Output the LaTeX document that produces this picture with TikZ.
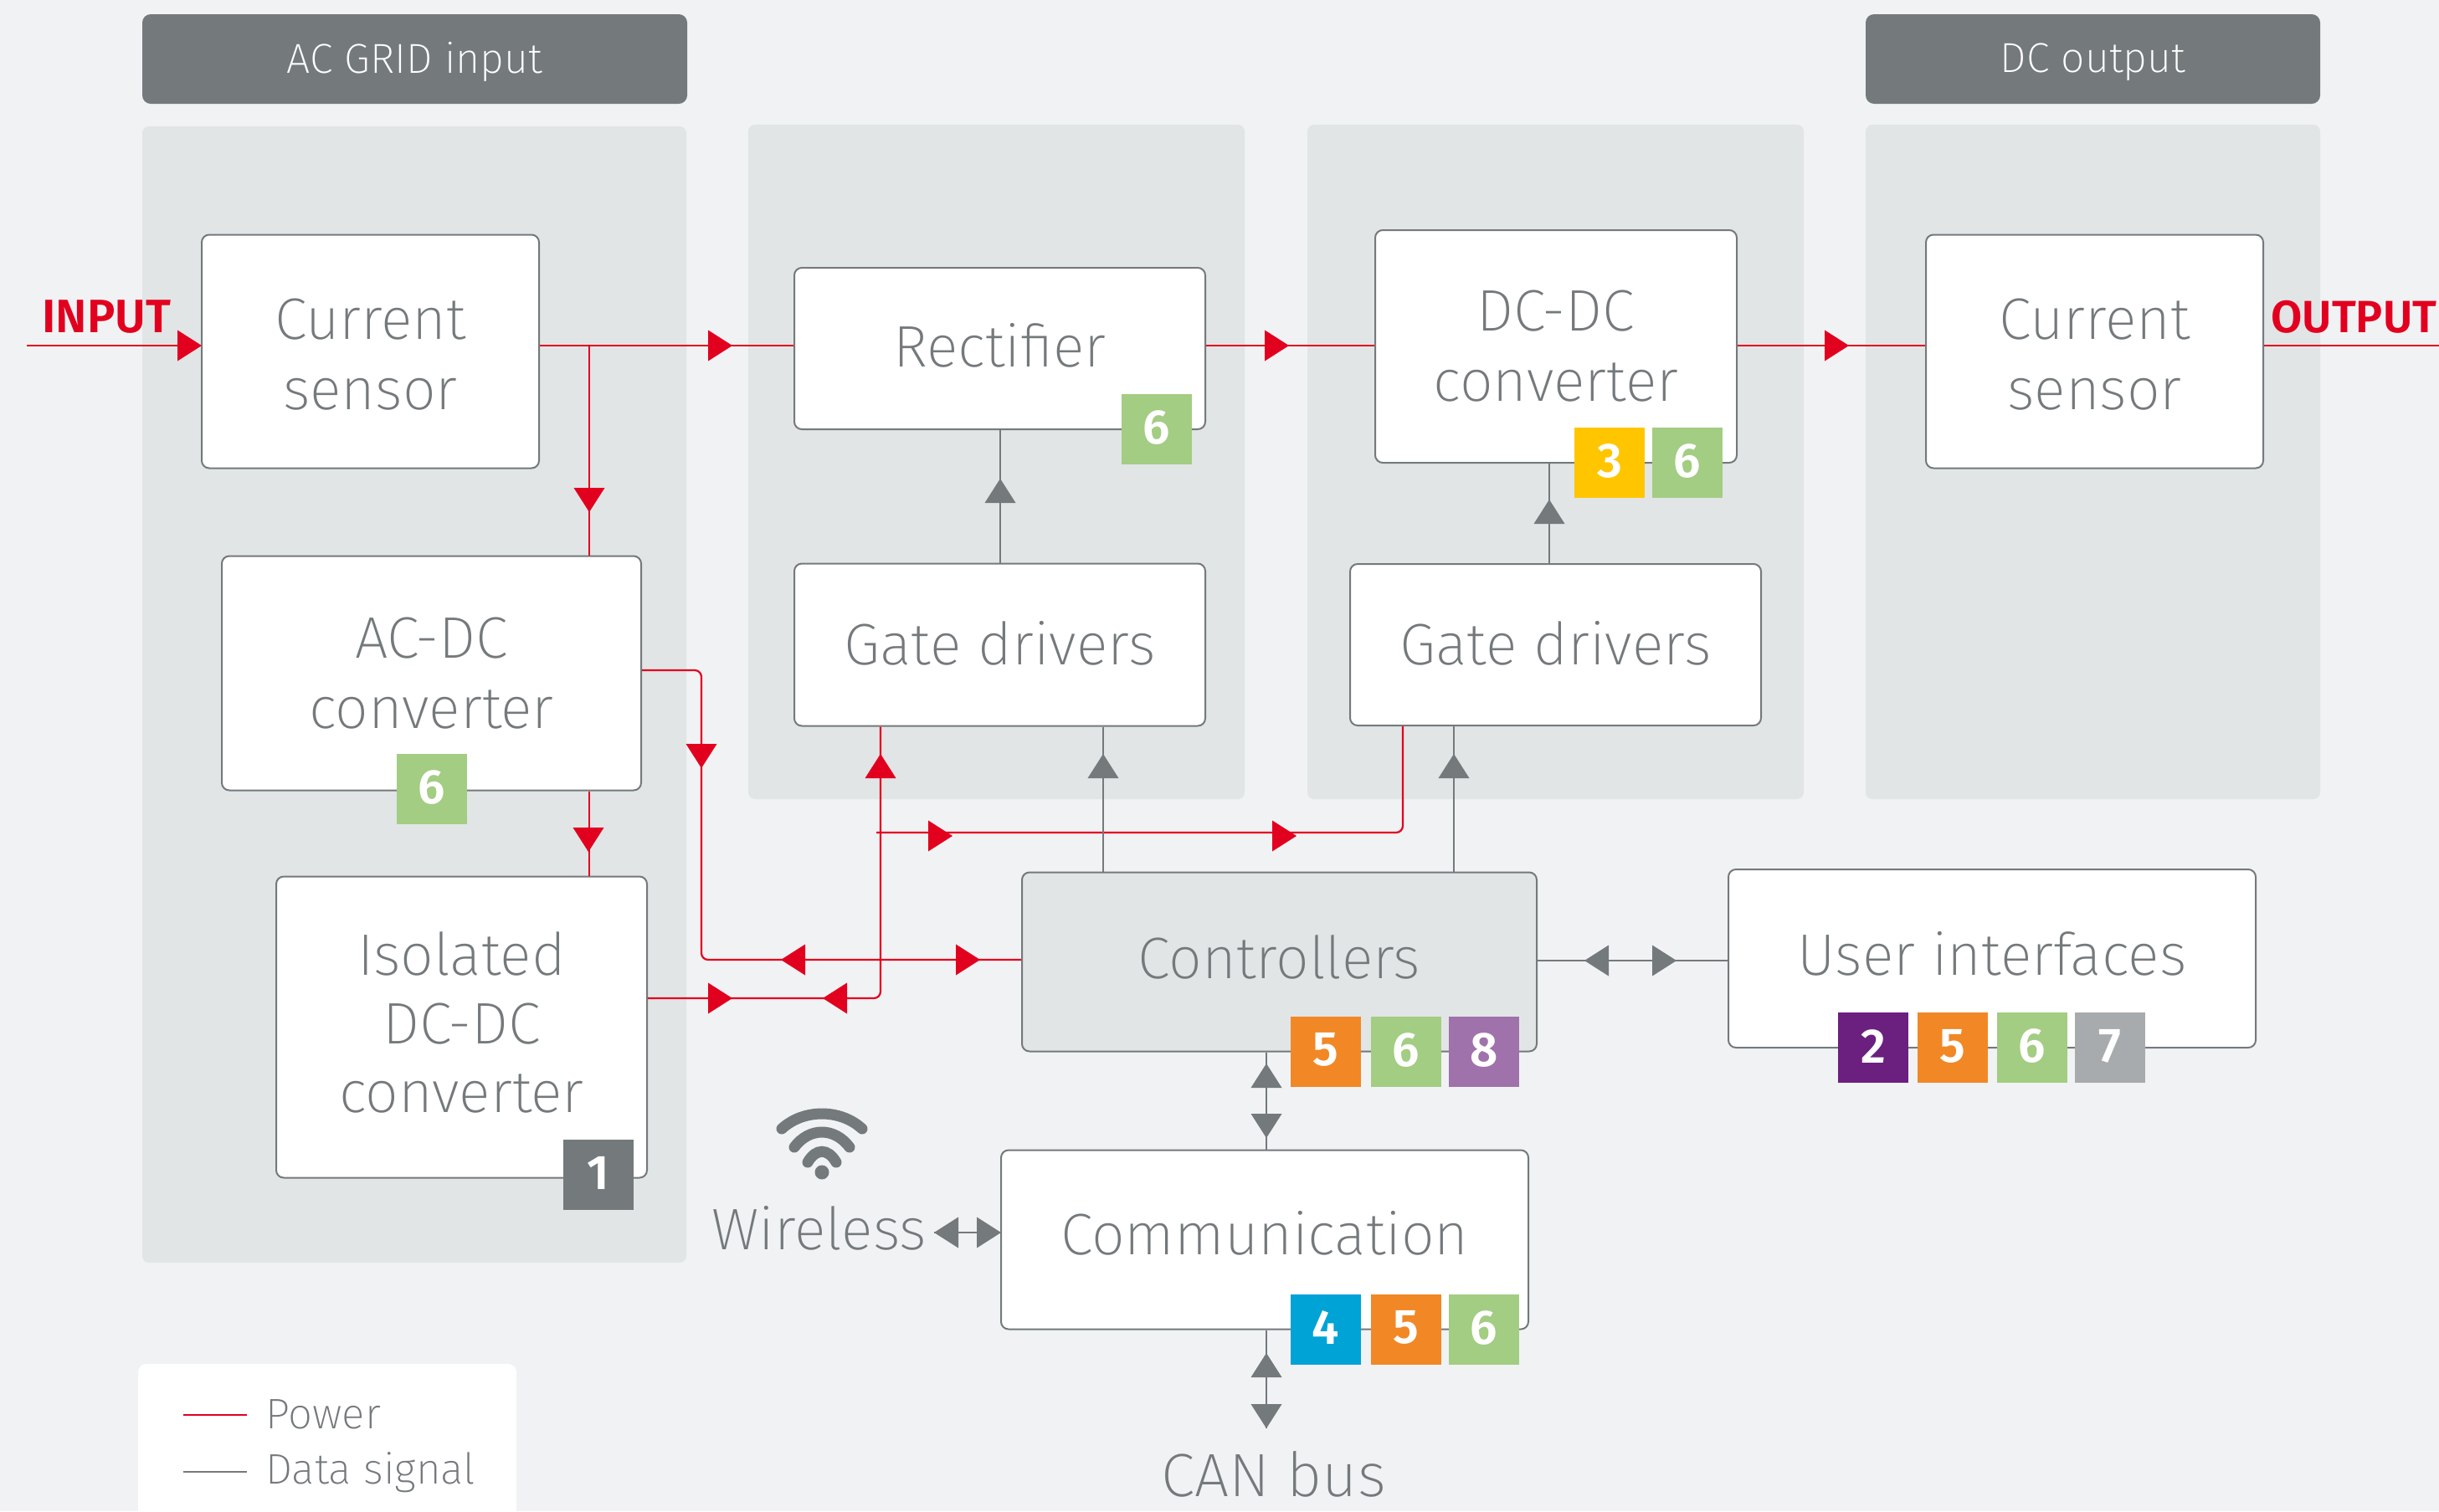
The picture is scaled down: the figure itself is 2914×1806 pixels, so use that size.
\documentclass[tikz,border=0pt]{standalone}
\usepackage{fontspec}
\setmainfont{Fira Sans}[UprightFont=* ExtraLight,BoldFont=* SemiBold]
\definecolor{bgc}{HTML}{F0F2F4}
\definecolor{panelc}{HTML}{E1E5E6}
\definecolor{greyc}{HTML}{74797C}
\definecolor{redc}{HTML}{E2001F}
\definecolor{cone}{HTML}{74797C}
\definecolor{ctwo}{HTML}{6B1F7F}
\definecolor{cthree}{HTML}{FFC600}
\definecolor{cfour}{HTML}{00A3D6}
\definecolor{cfive}{HTML}{F18825}
\definecolor{csix}{HTML}{A3CD82}
\definecolor{cseven}{HTML}{A7ABAE}
\definecolor{ceight}{HTML}{A072AB}
\newcommand{\tipmark}[4]{\fill[#1,shift={(#2,#3)},rotate=#4] (0,0)--(-29,18.5)--(-29,-18.5)--cycle;}
\newcommand{\liftt}[2]{\raisebox{#1}[\height][\depth]{#2}}
\tikzset{
 panel/.style={fill=panelc,rounded corners=4pt,draw=none},
 head/.style={fill=greyc,rounded corners=5pt,text=white,inner sep=0pt,font=\fontsize{25}{30}\selectfont},
 blockbox/.style={draw=greyc,line width=1pt,fill=white,rounded corners=4.5pt,inner sep=0pt,align=center,text=greyc,font=\fontsize{35}{42}\selectfont},
 badge/.style={minimum size=42pt,inner sep=0pt,text=white,font=\fontsize{29}{30}\selectfont\bfseries},
 power/.style={draw=redc,line width=1.1pt,rounded corners=4pt},
 data/.style={draw=greyc,line width=1pt,rounded corners=4pt},
 freetext/.style={text=greyc,inner sep=0pt,font=\fontsize{35}{42}\selectfont},
 legendtext/.style={text=greyc,inner sep=0pt,anchor=base west,font=\fontsize{25.5}{30}\selectfont},
 bigred/.style={text=redc,inner sep=0pt,anchor=base west,font=\fontsize{27}{30}\selectfont\bfseries},
 wifi/.style={draw=greyc,line width=6.5pt,line cap=round}
}
\begin{document}
\begin{tikzpicture}[x=0.5pt,y=-0.5pt]
\useasboundingbox (0,0) rectangle (2914,1806);
\clip (0,0) rectangle (2914,1806);
\fill[bgc] (0,0) rectangle (2914,1806);
% panels
\fill[panel] (170,151) rectangle (820,1509);
\fill[panel] (894,149) rectangle (1487,955);
\fill[panel] (1562,149) rectangle (2155,955);
\fill[panel] (2229,149) rectangle (2772,955);
% headers
\node[head,minimum width=325.5pt,minimum height=53.5pt] (hac) at (495.5,70.5) {\liftt{-1.6pt}{AC GRID input}};
\node[head,minimum width=271.5pt,minimum height=53.5pt] (hdc) at (2500.5,70.5) {\liftt{-1.8pt}{DC output}};
% blocks
\node[blockbox,minimum width=201.5pt,minimum height=139.5pt] (cs1) at (442.5,420) {\liftt{-1.6pt}{Current}\\\liftt{-1.6pt}{sensor}};
\node[blockbox,minimum width=250.5pt,minimum height=140pt] (acdc) at (515.5,804.5) {AC-DC\\converter};
\node[blockbox,minimum width=221.5pt,minimum height=180pt] (iso) at (551.5,1227.5) {\liftt{2.8pt}{Isolated}\\[-1pt]\liftt{2.8pt}{DC-DC}\\[-1pt]\liftt{2.8pt}{converter}};
\node[blockbox,minimum width=245.5pt,minimum height=96.5pt] (rect) at (1194.5,416.5) {\liftt{1.8pt}{Rectifier}};
\node[blockbox,minimum width=245.5pt,minimum height=97pt] (gate1) at (1194.5,770.5) {\liftt{1pt}{Gate drivers}};
\node[blockbox,minimum width=216pt,minimum height=139pt] (dcdc) at (1859,414) {DC-DC\\converter};
\node[blockbox,minimum width=245.5pt,minimum height=96.5pt] (gate2) at (1858.5,770.5) {\liftt{1pt}{Gate drivers}};
\node[blockbox,minimum width=201.5pt,minimum height=139.5pt] (cs2) at (2502.5,420) {\liftt{-1.6pt}{Current}\\\liftt{-1.6pt}{sensor}};
\node[blockbox,fill=panelc,minimum width=307.5pt,minimum height=107pt] (ctrl) at (1528.5,1149.5) {\liftt{2.8pt}{Controllers}};
\node[blockbox,minimum width=315pt,minimum height=106.5pt] (ui) at (2380,1145.5) {\liftt{2.8pt}{User interfaces}};
\node[blockbox,minimum width=315pt,minimum height=107pt] (comm) at (1511,1481.5) {\liftt{3.6pt}{Communication}};
% free labels
\node[freetext,anchor=base west] (wl) at (850,1493) {Wireless};
\node[freetext,anchor=base west,font=\fontsize{36.5}{42}\selectfont] (can) at (1387,1788) {CAN bus};
\node[bigred,font=\fontsize{28}{30}\selectfont\bfseries] (inp) at (50,397) {INPUT};
\node[bigred] (outp) at (2713,397) {OUTPUT};
% helper coordinates
\coordinate (rowmain) at (0,413);
\coordinate (inl) at (32,413);
\coordinate (outr) at (2914,413);
\coordinate (xdown) at (704,0);
\coordinate (pa) at (838,801);
\coordinate (pb) at (838,1147);
\coordinate (qa) at (1052,1193);
\coordinate (ra) at (1047,995);
\coordinate (rb) at (1676,995);
\coordinate (xg1) at (1318,0);
\coordinate (xg2) at (1737,0);
\coordinate (xdc) at (1851,0);
\coordinate (rowui) at (0,1148);
\coordinate (xc) at (1513,0);
\coordinate (canend) at (1513,1707);
\coordinate (wlend) at (1116,1473);
% power connectors
\draw[power] (inl) -- (cs1.west|-rowmain);
\draw[power] (cs1.east|-rowmain) -- (rect.west|-rowmain);
\draw[power] (rect.east|-rowmain) -- (dcdc.west|-rowmain);
\draw[power] (dcdc.east|-rowmain) -- (cs2.west|-rowmain);
\draw[power] (cs2.east|-rowmain) -- (outr);
\draw[power] (xdown|-rowmain) -- (xdown|-acdc.north);
\draw[power] (xdown|-acdc.south) -- (xdown|-iso.north);
\draw[power] (acdc.east|-pa) -- (pa) -- (pb) -- (ctrl.west|-pb);
\draw[power] (iso.east|-qa) -- (qa) -- (qa|-gate1.south);
\draw[power] (ra) -- (rb) -- (rb|-gate2.south);
% data connectors
\draw[data] (xg1|-ctrl.north) -- (xg1|-gate1.south);
\draw[data] (xg2|-ctrl.north) -- (xg2|-gate2.south);
\draw[data] (rect.south) -- (gate1.north);
\draw[data] (xdc|-dcdc.south) -- (xdc|-gate2.north);
\draw[data] (ctrl.east|-rowui) -- (ui.west|-rowui);
\draw[data] (xc|-ctrl.south) -- (xc|-comm.north);
\draw[data] (xc|-comm.south) -- (canend);
\draw[data] (wlend) -- (comm.west|-wlend);
% arrow heads
\tipmark{redc}{241}{413}{0}
\tipmark{redc}{875}{413}{0}
\tipmark{redc}{704}{612}{270}
\tipmark{redc}{1540}{413}{0}
\tipmark{redc}{2209}{413}{0}
\tipmark{redc}{703}{1018}{270}
\tipmark{redc}{838}{918}{270}
\tipmark{redc}{933}{1147}{180}
\tipmark{redc}{1171}{1147}{0}
\tipmark{redc}{875}{1193}{0}
\tipmark{redc}{983}{1193}{180}
\tipmark{redc}{1052}{901}{90}
\tipmark{redc}{1138}{999}{0}
\tipmark{redc}{1549}{999}{0}
\tipmark{greyc}{1318}{901}{90}
\tipmark{greyc}{1737}{901}{90}
\tipmark{greyc}{1195}{572}{90}
\tipmark{greyc}{1851}{597}{90}
\tipmark{greyc}{1893}{1148}{180}
\tipmark{greyc}{2003}{1148}{0}
\tipmark{greyc}{1513}{1271}{90}
\tipmark{greyc}{1513}{1360}{270}
\tipmark{greyc}{1513}{1617}{90}
\tipmark{greyc}{1513}{1707}{270}
\tipmark{greyc}{1116}{1473}{180}
\tipmark{greyc}{1196}{1473}{0}
% badges
\node[badge,fill=csix] (bR) at (1382,512.5) {\liftt{0.9pt}{6}};
\node[badge,fill=cthree] (bD3) at (1923,553) {\liftt{0.9pt}{3}};
\node[badge,fill=csix] (bD6) at (2016,553) {\liftt{0.9pt}{6}};
\node[badge,fill=csix] (bA) at (516,943) {\liftt{0.9pt}{6}};
\node[badge,fill=cone] (bI) at (715,1404) {\liftt{0.9pt}{1}};
\node[badge,fill=cfive] (bC5) at (1584,1256.5) {\liftt{0.9pt}{5}};
\node[badge,fill=csix] (bC6) at (1679.5,1256.5) {\liftt{0.9pt}{6}};
\node[badge,fill=ceight] (bC8) at (1773,1256.5) {\liftt{0.9pt}{8}};
\node[badge,fill=cfour] (bK4) at (1584,1588.5) {\liftt{0.9pt}{4}};
\node[badge,fill=cfive] (bK5) at (1679.5,1588.5) {\liftt{0.9pt}{5}};
\node[badge,fill=csix] (bK6) at (1773,1588.5) {\liftt{0.9pt}{6}};
\node[badge,fill=ctwo] (bU2) at (2238,1252) {\liftt{0.9pt}{2}};
\node[badge,fill=cfive] (bU5) at (2333,1252) {\liftt{0.9pt}{5}};
\node[badge,fill=csix] (bU6) at (2428,1252) {\liftt{0.9pt}{6}};
\node[badge,fill=cseven] (bU7) at (2521,1252) {\liftt{0.9pt}{7}};
% wifi icon
\draw[wifi] (934,1349) .. controls (960,1325) and (1004,1325) .. (1030,1349);
\draw[wifi] (949,1371) .. controls (967,1347) and (997,1347) .. (1015,1371);
\draw[wifi] (965,1389) .. controls (975,1372) and (989,1372) .. (999,1389);
\fill[greyc] (982,1401) ellipse [x radius=8.5,y radius=8.5];
% legend
\fill[white,rounded corners=5pt] (165,1630) rectangle (617,1830);
\draw[power] (219,1691) -- (295,1691);
\draw[data] (219,1759) -- (295,1759);
\node[legendtext] (lp) at (317,1707) {Power};
\node[legendtext] (ld) at (317,1773) {Data signal};
\end{tikzpicture}
\end{document}
